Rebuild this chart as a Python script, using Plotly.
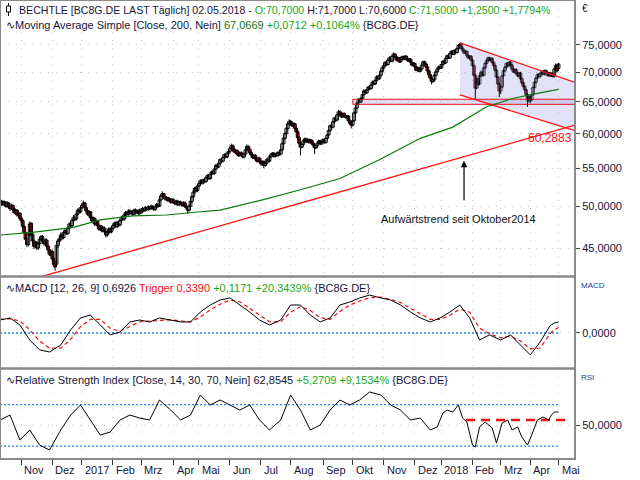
import math
import plotly.graph_objects as go

# ---------------- calendar (trading days per month, Oct 2016 .. May 2018) ----------------
month_days = [15, 22, 21, 22, 20, 23, 18, 22, 22, 21, 23, 21, 22, 22, 19, 22, 20, 21, 20, 1]
month_labels = ["Nov", "Dez", "2017", "Feb", "Mrz", "Apr", "Mai", "Jun", "Jul", "Aug",
                "Sep", "Okt", "Nov", "Dez", "2018", "Feb", "Mrz", "Apr", "Mai"]

# ---------------- daily OHLC ----------------
open_ = [
    50.1, 50.3, 50.6, 50.2, 50.5, 50.0, 50.4, 49.9, 49.7, 50.1, 49.6, 49.2, 49.5, 48.9, 49.1,
    48.5, 48.2, 47.5, 46.8, 46.0, 45.4, 46.5, 47.9, 46.6, 45.8, 45.2, 45.6, 45.0, 45.5, 46.0, 46.3, 45.8, 45.5, 45.9, 45.2, 44.8, 44.3,
    44.6, 43.8, 43.3, 43.2, 45.3, 45.8, 46.0, 46.5, 46.2, 46.8, 47.0, 46.7, 47.3, 47.8, 47.6, 48.2, 48.6, 48.4, 49.0, 49.5, 49.3,
    49.8, 50.1, 50.4, 49.8, 49.4, 49.0, 49.3, 48.6, 48.2, 48.5, 47.8, 48.1, 47.6, 47.2, 47.5, 47.0, 47.3, 46.9, 46.5, 46.8, 47.2, 46.9,
    47.3, 47.6, 47.9, 47.5, 48.0, 47.7, 48.2, 48.6, 48.4, 48.9, 49.2, 49.0, 49.4, 49.1, 49.3, 49.0, 49.5, 49.2, 49.4, 49.1,
    49.5, 49.3, 49.7, 49.5, 49.8, 49.6, 49.9, 49.7, 50.0, 49.8, 49.6, 49.9, 50.2, 50.0, 50.8, 51.3, 51.6, 51.2, 50.9, 51.1, 50.7, 50.9, 50.5,
    50.8, 50.5, 50.3, 50.6, 50.2, 50.5, 50.4, 50.1, 50.4, 50.0, 49.8, 49.5, 50.0, 50.6, 51.2, 51.8, 52.3, 52.0,
    52.6, 52.9, 53.3, 53.0, 53.4, 53.2, 53.7, 54.0, 53.6, 54.2, 54.5, 54.3, 54.9, 55.4, 55.2, 55.7, 56.2, 56.0, 56.5, 56.9, 56.6, 57.1,
    57.4, 57.8, 58.2, 57.7, 57.3, 57.5, 57.0, 56.8, 57.2, 56.9, 56.6, 57.0, 57.6, 58.1, 57.7, 57.2, 56.9, 56.5, 56.8, 56.3, 56.0, 56.4,
    55.9, 55.6, 55.9, 55.4, 55.7, 56.2, 56.0, 56.6, 56.9, 57.1, 56.7, 57.0, 56.8, 57.2, 57.0, 57.6, 58.5, 59.3, 60.0, 60.8, 61.5,
    61.9, 61.6, 61.2, 61.5, 60.8, 60.3, 59.4, 58.6, 58.0, 58.4, 58.9, 59.2, 58.8, 59.1, 58.7, 59.0, 58.6, 58.3, 57.9, 58.2, 58.6, 58.9, 58.5,
    58.8, 59.1, 58.7, 59.3, 59.8, 60.5, 61.2, 61.0, 61.8, 62.4, 62.1, 62.9, 63.4, 63.0, 62.6, 63.1, 62.8, 62.5, 62.7, 62.0, 61.6,
    61.3, 62.0, 63.2, 64.0, 64.8, 65.3, 65.0, 65.6, 66.2, 66.8, 66.5, 67.0, 67.4, 67.2, 67.8, 68.3, 68.0, 68.6, 69.2, 68.9, 69.5, 70.2,
    70.8, 71.2, 71.8, 71.4, 72.2, 72.6, 72.0, 72.9, 73.3, 72.8, 72.2, 72.6, 71.9, 72.3, 72.8, 72.4, 72.9, 72.5, 72.1, 72.4, 71.8, 71.3,
    71.6, 71.0, 70.4, 70.8, 70.2, 70.6, 71.3, 71.9, 71.5, 71.0, 70.3, 69.6, 69.0, 68.4, 68.7, 69.5, 70.1, 70.6, 71.0,
    70.8, 71.4, 72.0, 71.7, 72.5, 73.0, 72.6, 73.4, 73.8, 73.3, 74.0, 73.6, 74.3, 74.9, 75.1, 74.4, 74.0, 73.5, 73.8, 73.0, 72.6, 72.9,
    72.2, 71.2, 69.5, 67.3, 68.8, 68.0, 69.4, 70.0, 69.5, 70.8, 71.6, 72.1, 72.6, 72.2, 72.5, 71.8, 71.2, 70.4, 69.2, 68.0,
    66.8, 67.5, 69.4, 70.3, 70.9, 71.6, 71.2, 71.8, 71.3, 70.6, 70.1, 70.5, 69.8, 69.4, 69.9, 68.9, 68.2, 67.6, 67.0, 66.2, 65.2,
    65.8, 65.3, 66.2, 67.4, 68.3, 69.0, 69.6, 69.3, 69.8, 70.1, 69.7, 70.3, 70.0, 69.5, 69.9, 69.4, 69.8, 69.3, 70.6, 71.2,
    70.7,
]
high = [
    50.6, 50.8, 50.7, 50.7, 50.6, 50.6, 50.5, 50.1, 50.3, 50.2, 49.8, 49.7, 49.6, 49.3, 49.3,
    48.7, 48.4, 47.7, 47.0, 46.2, 46.7, 48.1, 48.0, 46.8, 46.0, 45.8, 45.8, 45.7, 46.2, 46.5, 46.5, 46.0, 46.1, 46.1, 45.4, 45.0, 44.8,
    44.8, 44.0, 43.5, 45.5, 46.1, 46.3, 46.8, 46.7, 47.0, 47.3, 47.2, 47.5, 48.0, 48.0, 48.4, 48.9, 48.8, 49.2, 49.7, 49.7, 50.0,
    50.3, 50.7, 50.5, 50.0, 49.6, 49.5, 49.4, 48.8, 48.7, 48.6, 48.3, 48.3, 47.8, 47.7, 47.7, 47.5, 47.5, 47.0, 47.0, 47.4, 47.4, 47.5,
    47.8, 48.1, 48.1, 48.2, 48.2, 48.4, 48.8, 48.8, 49.1, 49.4, 49.4, 49.6, 49.6, 49.5, 49.5, 49.7, 49.7, 49.6, 49.6, 49.7,
    49.7, 49.9, 49.8, 50.0, 49.9, 50.1, 50.0, 50.2, 50.1, 49.9, 50.1, 50.4, 50.3, 51.0, 51.5, 51.9, 51.7, 51.3, 51.3, 51.2, 51.1, 51.0, 51.0,
    51.0, 50.7, 50.8, 50.8, 50.7, 50.7, 50.6, 50.6, 50.6, 50.2, 50.0, 50.2, 50.8, 51.4, 52.0, 52.5, 52.5, 52.8,
    53.2, 53.5, 53.5, 53.6, 53.6, 53.9, 54.2, 54.2, 54.4, 54.7, 54.7, 55.1, 55.6, 55.6, 55.9, 56.4, 56.4, 56.7, 57.1, 57.1, 57.3, 57.6,
    58.0, 58.5, 58.4, 57.9, 57.7, 57.7, 57.2, 57.4, 57.4, 57.1, 57.2, 57.8, 58.4, 58.3, 57.9, 57.4, 57.1, 57.0, 57.0, 56.5, 56.6, 56.6,
    56.1, 56.1, 56.1, 55.9, 56.4, 56.4, 56.8, 57.1, 57.3, 57.3, 57.2, 57.2, 57.4, 57.4, 57.8, 58.7, 59.5, 60.2, 61.0, 61.7, 62.2,
    62.1, 61.9, 61.7, 61.7, 61.0, 60.5, 59.6, 58.8, 58.6, 59.1, 59.4, 59.4, 59.3, 59.3, 59.2, 59.2, 58.8, 58.5, 58.4, 58.8, 59.1, 59.1, 59.0,
    59.3, 59.3, 59.5, 60.0, 60.7, 61.4, 61.4, 62.0, 62.6, 62.6, 63.1, 63.7, 63.6, 63.2, 63.3, 63.3, 63.0, 62.9, 62.9, 62.2, 61.8,
    62.2, 63.4, 64.3, 65.0, 65.6, 65.5, 65.8, 66.4, 67.1, 67.0, 67.2, 67.7, 67.6, 68.0, 68.6, 68.5, 68.8, 69.5, 69.4, 69.7, 70.4, 71.1,
    71.5, 72.0, 72.0, 72.4, 72.9, 72.8, 73.1, 73.6, 73.5, 73.0, 72.8, 72.8, 72.5, 73.0, 73.0, 73.1, 73.1, 72.7, 72.6, 72.6, 72.0, 71.8,
    71.8, 71.2, 71.0, 71.0, 70.8, 71.5, 72.1, 72.1, 71.7, 71.2, 70.5, 69.8, 69.2, 68.9, 69.7, 70.3, 70.8, 71.2, 71.2,
    71.6, 72.2, 72.2, 72.7, 73.2, 73.2, 73.6, 74.0, 74.0, 74.2, 74.2, 74.5, 75.1, 75.4, 75.3, 74.6, 74.2, 74.0, 74.0, 73.2, 73.1, 73.1,
    72.4, 71.4, 69.7, 69.1, 69.0, 69.6, 70.3, 70.2, 71.0, 71.8, 72.3, 72.8, 72.8, 72.7, 72.7, 72.0, 71.4, 70.6, 69.4, 68.2,
    67.8, 69.6, 70.5, 71.1, 71.8, 71.8, 72.0, 72.0, 71.5, 70.8, 70.7, 70.7, 70.0, 70.1, 70.1, 69.1, 68.4, 67.8, 67.2, 66.4, 66.0,
    66.0, 66.4, 67.6, 68.5, 69.2, 69.8, 69.8, 70.0, 70.3, 70.3, 70.5, 70.5, 70.2, 70.1, 70.1, 70.0, 70.0, 70.8, 71.6, 71.5,
    71.7,
]
low = [
    49.8, 50.1, 50.0, 50.0, 49.8, 49.8, 49.7, 49.4, 49.5, 49.4, 49.0, 49.1, 48.7, 48.7, 48.3,
    47.9, 47.3, 46.6, 45.8, 45.1, 45.2, 46.3, 46.4, 45.6, 44.9, 45.0, 44.8, 44.8, 45.3, 45.8, 45.6, 45.3, 45.3, 45.0, 44.6, 44.1, 44.1,
    43.6, 43.0, 42.5, 43.0, 45.0, 45.5, 45.8, 46.0, 46.0, 46.6, 46.5, 46.5, 47.1, 47.4, 47.4, 48.0, 48.2, 48.2, 48.8, 49.1, 49.1,
    49.6, 49.9, 49.6, 49.2, 48.8, 48.8, 48.4, 48.0, 48.0, 47.6, 47.6, 47.4, 47.0, 47.0, 46.8, 46.8, 46.7, 46.2, 46.3, 46.6, 46.7, 46.7,
    47.1, 47.4, 47.3, 47.3, 47.5, 47.5, 48.0, 48.2, 48.2, 48.7, 48.8, 48.8, 48.9, 48.9, 48.8, 48.8, 49.0, 49.0, 48.9, 48.9,
    49.1, 49.1, 49.3, 49.3, 49.4, 49.4, 49.5, 49.5, 49.6, 49.4, 49.4, 49.7, 49.8, 49.9, 50.6, 51.1, 51.0, 50.7, 50.7, 50.5, 50.5, 50.3, 50.3,
    50.3, 50.1, 50.1, 50.0, 50.0, 50.2, 49.9, 49.9, 49.8, 49.6, 49.0, 49.3, 49.8, 50.4, 51.0, 51.6, 51.8, 51.8,
    52.4, 52.7, 52.8, 52.8, 53.0, 53.0, 53.5, 53.4, 53.4, 54.0, 54.1, 54.1, 54.7, 55.0, 55.0, 55.5, 55.8, 55.8, 56.3, 56.4, 56.4, 56.9,
    57.2, 57.6, 57.5, 57.1, 57.1, 56.8, 56.6, 56.6, 56.7, 56.4, 56.4, 56.8, 57.4, 57.5, 57.0, 56.7, 56.3, 56.3, 56.1, 55.8, 55.8, 55.7,
    55.3, 55.4, 55.0, 55.2, 55.5, 55.8, 55.8, 56.4, 56.7, 56.5, 56.5, 56.6, 56.6, 56.8, 56.8, 57.4, 58.3, 59.1, 59.8, 60.6, 61.3,
    61.3, 61.0, 61.0, 60.6, 60.1, 59.2, 58.4, 56.8, 57.8, 58.2, 58.7, 58.6, 58.6, 58.5, 58.5, 58.4, 58.1, 57.0, 57.7, 58.0, 58.4, 58.3, 58.3,
    58.6, 58.5, 58.5, 59.1, 59.6, 60.3, 60.8, 60.8, 61.6, 61.9, 61.9, 62.7, 62.8, 62.4, 62.4, 62.6, 62.3, 62.3, 61.8, 61.4, 60.8,
    61.1, 61.8, 63.0, 63.8, 64.6, 64.8, 64.8, 65.4, 66.0, 66.3, 66.3, 66.8, 67.0, 67.0, 67.6, 67.8, 67.8, 68.4, 68.7, 68.7, 69.3, 70.0,
    70.5, 71.0, 71.2, 71.2, 72.0, 71.8, 71.8, 72.7, 72.6, 72.0, 72.0, 71.7, 71.7, 72.1, 72.2, 72.2, 72.3, 71.9, 71.9, 71.6, 71.1, 71.1,
    70.8, 70.2, 70.2, 70.0, 70.0, 70.4, 71.1, 71.3, 70.8, 70.1, 69.4, 68.8, 67.9, 68.2, 68.5, 69.3, 69.9, 70.4, 70.6,
    70.6, 71.2, 71.5, 71.5, 72.3, 72.4, 72.4, 73.2, 73.1, 73.1, 73.4, 73.4, 74.1, 74.7, 74.2, 73.8, 73.3, 73.3, 72.8, 72.4, 72.4, 72.0,
    71.0, 69.3, 65.5, 67.1, 67.6, 67.8, 69.2, 69.3, 69.3, 70.6, 71.4, 71.9, 72.0, 72.0, 71.6, 71.0, 70.2, 69.0, 67.8, 65.8,
    66.3, 67.3, 69.2, 70.1, 70.7, 71.0, 71.0, 71.1, 70.4, 69.9, 69.9, 69.6, 69.2, 69.2, 68.7, 68.0, 67.4, 66.8, 66.0, 64.2, 64.9,
    64.8, 65.1, 66.0, 67.2, 68.1, 68.8, 69.1, 69.1, 69.6, 69.5, 69.5, 69.8, 69.3, 69.3, 69.2, 69.2, 69.1, 69.1, 70.4, 70.0,
    70.6,
]
close = [
    50.3, 50.6, 50.2, 50.5, 50.0, 50.4, 49.9, 49.7, 50.1, 49.6, 49.2, 49.5, 48.9, 49.1, 48.5,
    48.2, 47.5, 46.8, 46.0, 45.4, 46.5, 47.8, 46.6, 45.8, 45.2, 45.6, 45.0, 45.5, 46.0, 46.3, 45.8, 45.5, 45.9, 45.2, 44.8, 44.3, 44.6,
    43.8, 43.2, 42.9, 45.3, 45.8, 46.0, 46.5, 46.2, 46.8, 47.0, 46.7, 47.3, 47.8, 47.6, 48.2, 48.6, 48.4, 49.0, 49.5, 49.3, 49.8,
    50.1, 50.4, 49.8, 49.4, 49.0, 49.3, 48.6, 48.2, 48.5, 47.8, 48.1, 47.6, 47.2, 47.5, 47.0, 47.3, 46.9, 46.5, 46.8, 47.2, 46.9, 47.3,
    47.6, 47.9, 47.5, 48.0, 47.7, 48.2, 48.6, 48.4, 48.9, 49.2, 49.0, 49.4, 49.1, 49.3, 49.0, 49.5, 49.2, 49.4, 49.1, 49.5,
    49.3, 49.7, 49.5, 49.8, 49.6, 49.9, 49.7, 50.0, 49.8, 49.6, 49.9, 50.2, 50.0, 50.8, 51.3, 51.6, 51.2, 50.9, 51.1, 50.7, 50.9, 50.5, 50.8,
    50.5, 50.3, 50.6, 50.2, 50.5, 50.4, 50.1, 50.4, 50.0, 49.8, 49.5, 50.0, 50.6, 51.2, 51.8, 52.3, 52.0, 52.6,
    52.9, 53.3, 53.0, 53.4, 53.2, 53.7, 54.0, 53.6, 54.2, 54.5, 54.3, 54.9, 55.4, 55.2, 55.7, 56.2, 56.0, 56.5, 56.9, 56.6, 57.1, 57.4,
    57.8, 58.2, 57.7, 57.3, 57.5, 57.0, 56.8, 57.2, 56.9, 56.6, 57.0, 57.6, 58.1, 57.7, 57.2, 56.9, 56.5, 56.8, 56.3, 56.0, 56.4, 55.9,
    55.6, 55.9, 55.4, 55.7, 56.2, 56.0, 56.6, 56.9, 57.1, 56.7, 57.0, 56.8, 57.2, 57.0, 57.6, 58.5, 59.3, 60.0, 60.8, 61.5, 61.9,
    61.6, 61.2, 61.5, 60.8, 60.3, 59.4, 58.6, 58.0, 58.4, 58.9, 59.2, 58.8, 59.1, 58.7, 59.0, 58.6, 58.3, 57.9, 58.2, 58.6, 58.9, 58.5, 58.8,
    59.1, 58.7, 59.3, 59.8, 60.5, 61.2, 61.0, 61.8, 62.4, 62.1, 62.9, 63.4, 63.0, 62.6, 63.1, 62.8, 62.5, 62.7, 62.0, 61.6, 61.3,
    62.0, 63.2, 64.0, 64.8, 65.3, 65.0, 65.6, 66.2, 66.8, 66.5, 67.0, 67.4, 67.2, 67.8, 68.3, 68.0, 68.6, 69.2, 68.9, 69.5, 70.2, 70.8,
    71.2, 71.8, 71.4, 72.2, 72.6, 72.0, 72.9, 73.3, 72.8, 72.2, 72.6, 71.9, 72.3, 72.8, 72.4, 72.9, 72.5, 72.1, 72.4, 71.8, 71.3, 71.6,
    71.0, 70.4, 70.8, 70.2, 70.6, 71.3, 71.9, 71.5, 71.0, 70.3, 69.6, 69.0, 68.4, 68.7, 69.5, 70.1, 70.6, 71.0, 70.8,
    71.4, 72.0, 71.7, 72.5, 73.0, 72.6, 73.4, 73.8, 73.3, 74.0, 73.6, 74.3, 74.9, 75.1, 74.4, 74.0, 73.5, 73.8, 73.0, 72.6, 72.9, 72.2,
    71.2, 69.5, 67.3, 68.8, 68.0, 69.4, 70.0, 69.5, 70.8, 71.6, 72.1, 72.6, 72.2, 72.5, 71.8, 71.2, 70.4, 69.2, 68.0, 66.8,
    67.5, 69.4, 70.3, 70.9, 71.6, 71.2, 71.8, 71.3, 70.6, 70.1, 70.5, 69.8, 69.4, 69.9, 68.9, 68.2, 67.6, 67.0, 66.2, 65.2, 65.8,
    65.3, 66.2, 67.4, 68.3, 69.0, 69.6, 69.3, 69.8, 70.1, 69.7, 70.3, 70.0, 69.5, 69.9, 69.4, 69.8, 69.3, 70.6, 71.2, 70.25,
    71.5,
]
assert len(open_) == len(high) == len(low) == len(close) == sum(month_days), (len(open_), len(high), len(low), len(close))

# ---------------- moving average 200 (read at sparse days) ----------------
ma200_day = [0, 23, 52, 71, 94, 118, 142, 156, 184, 213, 241, 269, 298, 321, 345, 364, 381, 396]
ma200_val = [46.5, 46.8, 47.4, 48.3, 48.8, 48.9, 49.3, 49.5, 50.7, 52.1, 53.6, 56.2, 59.3, 61.0, 64.2, 65.6, 66.4, 67.07]

# ---------------- MACD readings ----------------
macd_day = [0, 7, 14, 21, 28, 35, 43, 50, 57, 64, 71, 78, 85, 92, 99, 106, 113, 121, 128, 135, 142, 149, 156,
            163, 170, 177, 184, 191, 199, 206, 213, 220, 227, 234, 241, 248, 255, 262, 270, 277, 284, 291,
            298, 305, 312, 319, 326, 333, 340, 347, 355, 362, 369, 376, 383, 387, 390, 393, 396]
macd_val = [0.81, 0.94, 0.50, -0.44, -1.06, -1.19, -0.75, 0.19, 0.94, 1.12, 0.50, -0.12, 0.06, 0.69, 0.81,
            0.69, 0.94, 0.81, 0.69, 0.69, 1.31, 1.75, 2.06, 2.19, 1.75, 1.31, 0.81, 0.50, 0.81, 1.75, 1.75,
            1.12, 0.69, 0.94, 1.75, 1.94, 2.19, 2.37, 2.19, 2.06, 1.75, 1.31, 0.94, 0.69, 0.94, 1.31, 1.75,
            0.94, -0.44, -0.12, -0.44, -0.12, -0.75, -1.37, -0.56, 0.0, 0.45, 0.62, 0.69]
signal_val = [0.85, 0.90, 0.75, 0.2, -0.5, -0.95, -0.95, -0.4, 0.4, 0.85, 0.85, 0.3, 0.1, 0.4, 0.7, 0.75,
              0.8, 0.82, 0.75, 0.7, 1.0, 1.45, 1.8, 2.05, 1.95, 1.55, 1.1, 0.7, 0.7, 1.3, 1.65, 1.4, 0.95,
              0.85, 1.35, 1.75, 2.0, 2.2, 2.25, 2.1, 1.9, 1.55, 1.15, 0.85, 0.85, 1.1, 1.5, 1.3, 0.3, -0.05,
              -0.3, -0.2, -0.5, -1.0, -0.94, -0.45, -0.05, 0.2, 0.34]

# ---------------- RSI readings ----------------
rsi_day = [0, 7, 14, 21, 28, 35, 43, 50, 57, 64, 71, 78, 85, 92, 99, 106, 113, 121, 128, 135, 142, 149, 156,
           163, 170, 177, 184, 191, 199, 206, 213, 220, 227, 234, 241, 248, 255, 262, 270, 277, 284, 291,
           298, 305, 310, 314, 317, 321, 325, 328, 331, 335, 337, 340, 344, 349, 352, 356, 360, 363, 367,
           370, 374, 377, 381, 385, 389, 391, 393, 396]
rsi_val = [55.1, 59.9, 35.8, 45.5, 31.0, 26.2, 45.5, 59.9, 69.6, 55.1, 40.6, 43.5, 55.1, 59.9, 57.0, 55.1,
           74.4, 64.7, 55.1, 59.9, 79.2, 69.6, 74.4, 69.6, 64.7, 69.6, 55.1, 45.5, 55.1, 79.2, 64.7, 45.5,
           50.3, 64.7, 74.4, 69.6, 74.4, 82.1, 79.2, 69.6, 64.7, 55.1, 57.0, 45.5, 48.4, 61.9, 64.7, 62.8,
           69.6, 57.0, 53.2, 31.0, 29.1, 48.4, 53.2, 47.4, 32.9, 52.2, 55.1, 45.5, 48.4, 38.7, 31.0, 40.6,
           55.1, 58.0, 55.1, 59.9, 62.8, 62.85]

# ---------------- drawn objects (chart values) ----------------
uptrend_day, uptrend_val = [29.7, 407.7], [41.9, 61.3]
channel_day = [326.1, 407.7]
channel_top = [75.38, 68.27]
channel_bottom = [66.14, 60.47]
support_day = [250.2, 407.7]
support_band = [64.6, 65.43]
rsi_bands = [70, 30]
rsi_mark, rsi_mark_day = 55.1, [330.4, 402]
price_ticks = [45, 50, 55, 60, 65, 70, 75]

# ---------------- geometry ----------------
W, H = 640, 480
PW, PH = 575, 459          # plot area in px
def py(y):                  # px from top -> paper y
    return (PH - y) / PH
def pxp(x):                 # px from left -> paper x
    return x / PW

days = list(range(len(close)))
tick_idx = []
acc = 0
for n in month_days[:-1]:
    acc += n
    tick_idx.append(acc)

FONT = "Liberation Sans, Arial, sans-serif"
TXT = "#15153a"
GREEN = "#1aa81a"
DKGREEN = "#137313"
RED = "#ee1111"
BLUE = "#1a7ff0"
GRID = dict(showgrid=True, gridcolor="#c4c4c4", griddash="1px,7px", gridwidth=1)

fig = go.Figure()

# channel fill and support band
fig.add_trace(go.Scatter(x=[channel_day[0], channel_day[1], channel_day[1], channel_day[0], channel_day[0]],
                         y=[channel_top[0], channel_top[1], channel_bottom[1], channel_bottom[0], channel_top[0]],
                         fill="toself", fillcolor="rgba(180,180,235,0.40)", line=dict(width=0),
                         mode="lines", hoverinfo="skip", showlegend=False))
fig.add_trace(go.Scatter(x=[support_day[0], support_day[1], support_day[1], support_day[0], support_day[0]],
                         y=[support_band[1], support_band[1], support_band[0], support_band[0], support_band[1]],
                         fill="toself", fillcolor="rgba(180,180,235,0.45)", line=dict(color=RED, width=1),
                         mode="lines", hoverinfo="skip", showlegend=False))

# candles: wicks + bodies (bodies wider than the day spacing, like the original renderer)
wick_x, wick_y = [], []
for d, lo, hi in zip(days, low, high):
    wick_x += [d, d, None]
    wick_y += [lo, hi, None]
fig.add_trace(go.Scatter(x=wick_x, y=wick_y, mode="lines", line=dict(color="#000000", width=1),
                         hoverinfo="skip", showlegend=False))
body_base = [min(o, c) for o, c in zip(open_, close)]
body_len = [max(abs(c - o), 0.06) for o, c in zip(open_, close)]
body_col = ["#ffffff" if c >= o else "#e8141e" for o, c in zip(open_, close)]
fig.add_trace(go.Bar(x=days, y=body_len, base=body_base, width=2.0,
                     marker=dict(color=body_col, line=dict(color="#000000", width=1)),
                     hoverinfo="skip", showlegend=False))

fig.add_trace(go.Scatter(x=ma200_day, y=ma200_val, mode="lines", line=dict(color="#0b780b", width=1.2),
                         hoverinfo="skip", showlegend=False))
fig.add_trace(go.Scatter(x=uptrend_day, y=uptrend_val, mode="lines", line=dict(color="#ff1010", width=1.3),
                         hoverinfo="skip", showlegend=False))
fig.add_trace(go.Scatter(x=channel_day, y=channel_top, mode="lines", line=dict(color="#ff1010", width=1.3),
                         hoverinfo="skip", showlegend=False))
fig.add_trace(go.Scatter(x=channel_day, y=channel_bottom, mode="lines", line=dict(color="#ff1010", width=1.3),
                         hoverinfo="skip", showlegend=False))

# MACD panel
fig.add_trace(go.Scatter(x=[0, days[-1]], y=[0, 0], xaxis="x2", yaxis="y2", mode="lines",
                         line=dict(color=BLUE, width=1.3, dash="2px,2px"), hoverinfo="skip", showlegend=False))
fig.add_trace(go.Scatter(x=macd_day, y=signal_val, xaxis="x2", yaxis="y2", mode="lines",
                         line=dict(color="#ee1111", width=1.2, dash="4px,3px"), hoverinfo="skip", showlegend=False))
fig.add_trace(go.Scatter(x=macd_day, y=macd_val, xaxis="x2", yaxis="y2", mode="lines",
                         line=dict(color="#000000", width=1), hoverinfo="skip", showlegend=False))

# RSI panel
for lvl in rsi_bands:
    fig.add_trace(go.Scatter(x=[0, days[-1]], y=[lvl, lvl], xaxis="x3", yaxis="y3", mode="lines",
                             line=dict(color=BLUE, width=1.3, dash="2px,2px"), hoverinfo="skip", showlegend=False))
fig.add_trace(go.Scatter(x=rsi_mark_day, y=[rsi_mark, rsi_mark], xaxis="x3", yaxis="y3", mode="lines",
                         line=dict(color="#ee1111", width=2.6, dash="9px,6px"), hoverinfo="skip", showlegend=False))
fig.add_trace(go.Scatter(x=rsi_day, y=rsi_val, xaxis="x3", yaxis="y3", mode="lines",
                         line=dict(color="#000000", width=1), hoverinfo="skip", showlegend=False))

xr = [-0.1, 407.7]
axis_font = dict(family=FONT, size=11, color=TXT)
xcommon = dict(range=xr, tickvals=tick_idx, showticklabels=False, zeroline=False, showline=False, **GRID)

fig.update_layout(
    width=W, height=H, margin=dict(l=0, r=W - PW, t=0, b=H - PH),
    paper_bgcolor="white", plot_bgcolor="white", showlegend=False,
    xaxis=dict(domain=[0, 1], anchor="y", ticks="", rangeslider=dict(visible=False), **xcommon),
    xaxis2=dict(domain=[0, 1], anchor="y2", matches="x", ticks="", **xcommon),
    xaxis3=dict(domain=[0, 1], anchor="y3", matches="x", ticks="outside", ticklen=5, tickcolor="#333333", **xcommon),
    yaxis=dict(domain=[py(276), 1], anchor="x", type="log", side="right",
               range=[math.log10(41.94), math.log10(83.99)],
               tickvals=price_ticks, ticktext=[f"{v},0000" for v in price_ticks],
               ticks="outside", ticklen=4, tickcolor="#444444", tickfont=axis_font,
               zeroline=False, showline=False, **GRID),
    yaxis2=dict(domain=[py(368), py(277)], anchor="x2", side="right", range=[-2.19, 3.5],
                tickvals=[0], ticktext=["0,0000"], ticks="outside", ticklen=4, tickcolor="#444444",
                tickfont=axis_font, zeroline=False, showline=False, **GRID),
    yaxis3=dict(domain=[0, py(369)], anchor="x3", side="right", range=[17.52, 104.3],
                tickvals=[50], ticktext=["50,0000"], ticks="outside", ticklen=4, tickcolor="#444444",
                tickfont=axis_font, zeroline=False, showline=False, **GRID),
)

# frames
FR = "#8a8a8a"
shapes = [
    dict(type="rect", xref="paper", yref="paper", x0=0, x1=1, y0=0, y1=1, line=dict(color=FR, width=2)),
    dict(type="line", xref="paper", yref="paper", x0=0, x1=1, y0=py(276.5), y1=py(276.5), line=dict(color=FR, width=2.5)),
    dict(type="line", xref="paper", yref="paper", x0=0, x1=1, y0=py(368.5), y1=py(368.5), line=dict(color=FR, width=2.5)),
    # candle icon
    dict(type="line", xref="paper", yref="paper", x0=pxp(8.5), x1=pxp(8.5), y0=py(3), y1=py(16), line=dict(color="#000000", width=1)),
    dict(type="rect", xref="paper", yref="paper", x0=pxp(6.5), x1=pxp(10.5), y0=py(12), y1=py(6),
         line=dict(color="#000000", width=1), fillcolor="white"),
]
fig.update_layout(shapes=shapes)

def span(color, s):
    return f"<span style='color:{color}'>{s}</span>"

legend_font = dict(family=FONT, size=11, color=TXT)
ann = []
ann.append(dict(xref="paper", yref="paper", x=pxp(17), y=py(10), xanchor="left", yanchor="middle", showarrow=False,
                font=dict(family=FONT, size=10.6, color=TXT),
                text="BECHTLE [BC8G.DE LAST Täglich] 02.05.2018 - " + span(GREEN, "O:70,7000") +
                     " H:71,7000 L:70,6000 " + span(GREEN, "C:71,5000 +1,2500 +1,7794%")))
ann.append(dict(xref="paper", yref="paper", x=pxp(4), y=py(25), xanchor="left", yanchor="middle", showarrow=False,
                font=legend_font,
                text="∿Moving Average Simple [Close, 200, Nein] " + span(DKGREEN, "67,0669") + " " +
                     span(GREEN, "+0,0712 +0,1064%") + " {BC8G.DE}"))
ann.append(dict(xref="paper", yref="paper", x=pxp(4), y=py(288), xanchor="left", yanchor="middle", showarrow=False,
                font=legend_font,
                text="∿MACD [12, 26, 9] 0,6926 " + span(RED, "Trigger 0,3390") + " " +
                     span(GREEN, "+0,1171 +20,3439%") + " {BC8G.DE}"))
ann.append(dict(xref="paper", yref="paper", x=pxp(4), y=py(380), xanchor="left", yanchor="middle", showarrow=False,
                font=legend_font,
                text="∿Relative Strength Index [Close, 14, 30, 70, Nein] 62,8545 " +
                     span(GREEN, "+5,2709 +9,1534%") + " {BC8G.DE}"))
# right side labels
ann.append(dict(xref="paper", yref="paper", x=pxp(580), y=py(8), xanchor="left", yanchor="middle", showarrow=False,
                font=dict(family=FONT, size=10, color=TXT), text="€"))
ann.append(dict(xref="paper", yref="paper", x=pxp(579), y=py(285), xanchor="left", yanchor="middle", showarrow=False,
                font=dict(family=FONT, size=8, color="#2a3a8a"), text="MACD"))
ann.append(dict(xref="paper", yref="paper", x=pxp(579), y=py(377), xanchor="left", yanchor="middle", showarrow=False,
                font=dict(family=FONT, size=8, color="#2a3a8a"), text="RSI"))
# month labels
for t, lab in zip(tick_idx, month_labels):
    ann.append(dict(xref="x3", yref="paper", x=t, y=py(470), xanchor="left", yanchor="middle", xshift=1,
                    showarrow=False, font=dict(family=FONT, size=11, color=TXT), text=lab))
# trend annotation
ann.append(dict(xref="x", yref="y", x=329, y=math.log10(56.06), ax=329, ay=math.log10(50.56),
                axref="x", ayref="y", showarrow=True, arrowhead=2, arrowsize=1.1, arrowwidth=1.2,
                arrowcolor="#000000", text=""))
ann.append(dict(xref="x", yref="y", x=325.4, y=math.log10(48.37), xanchor="center", yanchor="middle",
                showarrow=False, font=dict(family=FONT, size=11, color="#111111"),
                text="Aufwärtstrend seit Oktober2014"))
ann.append(dict(xref="x", yref="y", x=407.3, y=math.log10(59.4), xanchor="right", yanchor="middle",
                showarrow=False, font=dict(family=FONT, size=12, color="#ff1010"), text="60,2883"))
fig.update_layout(annotations=ann)

fig.write_html("out.html")
